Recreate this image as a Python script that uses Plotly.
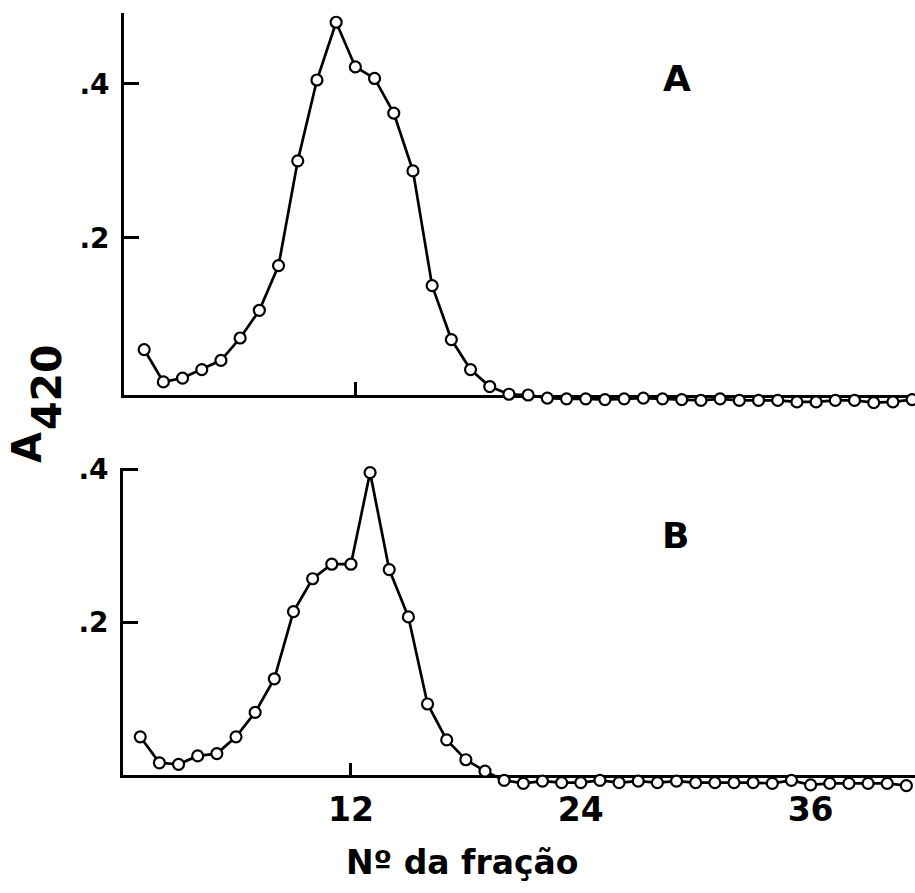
import plotly.graph_objects as go

fractions = [1, 2, 3, 4, 5, 6, 7, 8, 9, 10, 11, 12, 13, 14, 15, 16, 17, 18, 19, 20,
             21, 22, 23, 24, 25, 26, 27, 28, 29, 30, 31, 32, 33, 34, 35, 36, 37, 38, 39, 40, 41]

a420_A = [0.055, 0.013, 0.018, 0.029, 0.041, 0.070, 0.106, 0.164, 0.300, 0.405,
          0.480, 0.422, 0.407, 0.362, 0.287, 0.138, 0.068, 0.029, 0.007, -0.003,
          -0.004, -0.008, -0.009, -0.009, -0.010, -0.009, -0.008, -0.009, -0.010, -0.011,
          -0.009, -0.011, -0.011, -0.011, -0.013, -0.013, -0.011, -0.011, -0.014, -0.013, -0.010]

a420_B = [0.050, 0.016, 0.014, 0.025, 0.028, 0.050, 0.082, 0.126, 0.214, 0.257,
          0.276, 0.276, 0.396, 0.269, 0.207, 0.093, 0.046, 0.020, 0.005, -0.007,
          -0.011, -0.008, -0.010, -0.010, -0.007, -0.010, -0.008, -0.010, -0.008, -0.010,
          -0.010, -0.010, -0.010, -0.011, -0.007, -0.013, -0.011, -0.011, -0.011, -0.011, -0.014]

y_ticks = [0.2, 0.4]
y_ticktext = [".2", ".4"]
x_ticks = [12, 24, 36]
x_ticktext = ["12", "24", "36"]

W, H = 915, 893
FONT = "DejaVu Sans, Liberation Sans, sans-serif"

def px_x(p):
    return p / W

def px_y(p):
    return 1 - p / H

# panel geometry (pixels) and value ranges
A_left, A_top, A_bottom = 124, 13, 395
A_yrange = [-0.004, 0.492]
A_xrange = [-0.05, 41.15]
B_left, B_top, B_bottom = 123, 468, 775
B_yrange = [0.0, 0.402]
B_xrange = [0.1, 41.45]
EXT = 25  # extra pixels below the visible baseline for data subplots

A_ppu = (A_bottom - A_top) / (A_yrange[1] - A_yrange[0])
B_ppu = (B_bottom - B_top) / (B_yrange[1] - B_yrange[0])

marker = dict(size=11, color="white", line=dict(color="black", width=2.2))
line = dict(color="black", width=2.7)

fig = go.Figure()
# carrier traces (draw nothing) so the visible axes subplots are rendered
fig.add_trace(go.Scatter(x=fractions, y=a420_A, mode="none", hoverinfo="skip",
                         xaxis="x", yaxis="y", showlegend=False))
fig.add_trace(go.Scatter(x=fractions, y=a420_B, mode="none", hoverinfo="skip",
                         xaxis="x2", yaxis="y2", showlegend=False))
# data traces
fig.add_trace(go.Scatter(x=fractions, y=a420_A, mode="lines+markers", marker=marker,
                         line=line, cliponaxis=False, xaxis="x3", yaxis="y3", showlegend=False))
fig.add_trace(go.Scatter(x=fractions, y=a420_B, mode="lines+markers", marker=marker,
                         line=line, cliponaxis=False, xaxis="x4", yaxis="y4", showlegend=False))

axis_common = dict(showline=True, linecolor="black", linewidth=2.7, showgrid=False,
                   zeroline=False, layer="below traces", fixedrange=True, automargin=False)
hidden = dict(visible=False, fixedrange=True, automargin=False, showgrid=False, zeroline=False)
ytickfont = dict(family=FONT, size=28, weight="bold", color="black")
xtickfont = dict(family=FONT, size=33, weight="bold", color="black")

fig.update_layout(
    template="none",
    width=W, height=H,
    margin=dict(l=0, r=0, t=0, b=0, pad=0),
    paper_bgcolor="white", plot_bgcolor="rgba(0,0,0,0)",
    font=dict(family=FONT, color="black"),
    # visible axes, panel A
    xaxis=dict(domain=[px_x(A_left), 1], range=A_xrange, anchor="y",
               tickmode="array", tickvals=[12], ticks="inside", ticklen=13,
               tickwidth=2.5, tickcolor="black", showticklabels=False, **axis_common),
    yaxis=dict(domain=[px_y(A_bottom), px_y(A_top)], range=A_yrange, anchor="x",
               tickmode="array", tickvals=y_ticks, ticktext=y_ticktext,
               ticks="inside", ticklen=15, tickwidth=2.5, tickcolor="black",
               ticklabelstandoff=6, tickfont=ytickfont, **axis_common),
    # visible axes, panel B
    xaxis2=dict(domain=[px_x(B_left), 1], range=B_xrange, anchor="y2",
                tickmode="array", tickvals=x_ticks, ticktext=x_ticktext, ticks="",
                minor=dict(tickmode="array", tickvals=[12], ticks="inside", ticklen=12,
                           tickwidth=2.5, tickcolor="black", showgrid=False),
                ticklabelstandoff=4, tickfont=xtickfont, **axis_common),
    yaxis2=dict(domain=[px_y(B_bottom), px_y(B_top)], range=B_yrange, anchor="x2",
                tickmode="array", tickvals=y_ticks, ticktext=y_ticktext,
                ticks="inside", ticklen=15, tickwidth=2.5, tickcolor="black",
                ticklabelstandoff=6, tickfont=ytickfont, **axis_common),
    # data subplots (same scale, extended downwards so the tail is not hidden)
    xaxis3=dict(domain=[px_x(A_left), 1], range=A_xrange, anchor="y3", **hidden),
    yaxis3=dict(domain=[px_y(A_bottom + EXT), px_y(A_top)],
                range=[A_yrange[0] - EXT / A_ppu, A_yrange[1]], anchor="x3", **hidden),
    xaxis4=dict(domain=[px_x(B_left), 1], range=B_xrange, anchor="y4", **hidden),
    yaxis4=dict(domain=[px_y(B_bottom + EXT), px_y(B_top)],
                range=[B_yrange[0] - EXT / B_ppu, B_yrange[1]], anchor="x4", **hidden),
)

ann_font = dict(family=FONT, size=36, weight="bold", color="black")
fig.add_annotation(text="A", x=px_x(677), y=px_y(78), xref="paper", yref="paper",
                   showarrow=False, xanchor="center", yanchor="middle", font=ann_font)
fig.add_annotation(text="B", x=px_x(675), y=px_y(535), xref="paper", yref="paper",
                   showarrow=False, xanchor="center", yanchor="middle", font=ann_font)
fig.add_annotation(text="A", x=px_x(27), y=px_y(448), xref="paper", yref="paper",
                   showarrow=False, xanchor="center", yanchor="middle", textangle=-90,
                   font=dict(family=FONT, size=40, weight="bold", color="black"))
fig.add_annotation(text="420", x=px_x(47), y=px_y(387), xref="paper", yref="paper",
                   showarrow=False, xanchor="center", yanchor="middle", textangle=-90,
                   font=dict(family=FONT, size=41, weight="bold", color="black"))
fig.add_annotation(text="Nº da fração", x=px_x(463), y=px_y(862), xref="paper", yref="paper",
                   showarrow=False, xanchor="center", yanchor="middle",
                   font=dict(family=FONT, size=33, weight="bold", color="black"))

fig.write_html("out.html", config={"displayModeBar": False},
               post_script="document.body.style.margin='0px';")
